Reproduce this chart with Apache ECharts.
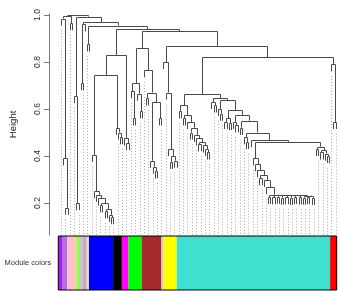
<!DOCTYPE html>
<html>
<head>
<meta charset="utf-8">
<script src="https://cdn.jsdelivr.net/npm/echarts@6/dist/echarts.min.js"></script>
<style>
html, body { margin: 0; padding: 0; background: #fff; }
#chart { width: 341px; height: 291px; }
</style>
</head>
<body>
<div id="chart"></div>
<script>
// subtrees as [mergeHeight, left, right], 0 = one leaf
var purpleTree = [0.39, 0, [0.18, 0, 0]];
var pinkTopTree = [0.965, 0, 0];
var pinkTree = [0.655, 0, [0.2, 0, 0]];
var greenyellowTree = [0.71, 0, 0];
var pairTree = [0.875, 0, 0];
var blueTree = [0.405, 0, [0.25, 0, [0.235, 0, [0.22, 0, [0.2, [0.19, 0, 0], [0.175, [0.165, 0, 0], [0.15, 0, [0.14, 0, 0]]]]]]]];
var blackTree = [0.52, 0, [0.5, 0, [0.48, 0, 0]]];
var magentaTree = [0.475, 0, [0.455, 0, 0]];
var greenTree = [0.71, [0.675, 0, [0.56, 0, 0]], [0.665, 0, [0.59, 0, 0]]];
var brownTree = [0.765, 0, [0.67, [0.645, 0, 0], [0.63, [0.38, 0, [0.355, 0, [0.335, 0, 0]]], [0.56, 0, 0]]]];
var yellowTree = [0.8, 0, [0.67, 0, [0.43, 0, [0.4, [0.375, 0, 0], [0.38, 0, 0]]]]];
var turqLeftTree = [0.617, [0.59, 0, 0], [0.575, [0.56, 0, 0], [0.545, 0, [0.52, [0.5, 0, 0], [0.49, 0, [0.475, 0, [0.46, [0.45, 0, 0], [0.445, 0, [0.43, 0, [0.415, 0, 0]]]]]]]]]];
var flatTree = [0.236, [0.226, 0, 0], [0.2355, [0.224, 0, 0], [0.235, [0.227, 0, 0], [0.2345, [0.223, 0, 0], [0.234, [0.225, 0, 0],
  [0.2335, [0.222, 0, 0], [0.233, [0.226, 0, 0], [0.2325, [0.224, 0, 0], [0.232, [0.223, 0, 0], [0.2315, [0.225, 0, 0], [0.222, 0, 0]]]]]]]]]]];
var chainTree = [0.39, 0, [0.365, 0, [0.34, 0, [0.32, [0.305, 0, 0], [0.298, 0, [0.268, 0, flatTree]]]]]];
var turqRightTree = [0.44, [0.43, 0, 0], [0.425, [0.415, 0, 0], [0.41, 0, [0.4, 0, 0]]]];
var turqStairTree = [0.647, [0.63, 0, [0.615, 0, 0]],
  [0.638, [0.6, 0, [0.58, 0, 0]],
  [0.596, [0.56, [0.545, 0, 0], [0.54, 0, 0]],
  [0.575, [0.545, 0, [0.53, 0, 0]],
  [0.55, [0.52, 0, 0],
  [0.5, [0.48, 0, [0.46, 0, 0]],
  [0.467, 0, [0.46, chainTree, turqRightTree]]]]]]]];
var turquoiseTree = [0.664, turqLeftTree, turqStairTree];
var redTree = [0.79, 0, [0.545, 0, 0]];

var root = [1.0,
  [0.997, [0.985, 0, purpleTree], pinkTopTree],
  [0.993, pinkTree,
    [0.97, [0.96, greenyellowTree, 0],
      [0.955, pairTree,
        [0.94,
          [0.83, [0.745, blueTree, blackTree], magentaTree],
          [0.932,
            [0.86, greenTree, brownTree],
            [0.868, yellowTree, [0.82, turquoiseTree, redTree]]]]]]]];

var moduleColors = ['#A020F0', '#B46EE6', '#FFC0CB', '#ADFF2F', '#90EE90', '#B0C4DE', '#D8A8A8', '#D8E0F0',
  '#0000FF', '#000000', '#FF00FF', '#00FF00', '#A52A2A', '#D8C8C0', '#FFFF00', '#40E0D0', '#FF0000'];
var moduleSizes = [2, 2, 4, 1, 1, 1, 2, 1, 11, 4, 3, 6, 9, 1, 6, 70, 3];
var heightTicks = [0.2, 0.4, 0.6, 0.8, 1.0];

var hang = 0.03, guideGap = 0.02;
var yMin = 0.064, yMax = 1.005;

// walk the tree: leaves get x = 1..N, each node gives one U shaped segment
var segments = [], leaves = [], leafCount = 0;
function layout(node, parentH) {
  if (node === 0) {
    leafCount += 1;
    var leaf = [leafCount, parentH - hang];
    leaves.push(leaf);
    return leaf;
  }
  var l = layout(node[1], node[0]);
  var r = layout(node[2], node[0]);
  segments.push([l[0], r[0], node[0], l[1], r[1]]);
  return [(l[0] + r[0]) / 2, node[0]];
}
layout(root, 1);

var guides = leaves.filter(function (d, i) { return i % 2 === 0; })
  .map(function (d) { return [d[0], d[1] - guideGap]; });

var bars = [], start = 0.5;
moduleSizes.forEach(function (s, i) {
  bars.push([start, start + s, i]);
  start += s;
});
var nLeaves = start - 0.5;

function px(v) { return Math.round(v) + 0.5; }

var myChart = echarts.init(document.getElementById('chart'));
var font = 'Liberation Sans, Arial, sans-serif';

var option = {
  animation: false,
  grid: [
    { left: 58.3, width: 278.4, top: 13.8, height: 221.2 },
    { left: 58.3, width: 278.4, top: 236, height: 54, show: true, borderColor: '#000', borderWidth: 1, z: 5 }
  ],
  xAxis: [
    { type: 'value', gridIndex: 0, min: 0.5, max: nLeaves + 0.5, show: false },
    { type: 'value', gridIndex: 1, min: 0.5, max: nLeaves + 0.5, show: false }
  ],
  yAxis: [
    {
      type: 'value', gridIndex: 0, min: yMin, max: yMax, offset: 11,
      name: 'Height', nameLocation: 'middle', nameGap: 31, nameRotate: 90,
      nameTextStyle: { fontSize: 9.5, color: '#222', fontFamily: font },
      axisLine: { show: true, lineStyle: { color: '#777' } },
      axisTick: { show: true, length: 5, customValues: heightTicks, lineStyle: { color: '#777' } },
      axisLabel: {
        customValues: heightTicks, rotate: 90, margin: 7,
        fontSize: 8.5, color: '#333', fontFamily: font,
        formatter: function (v) { return v.toFixed(1); }
      },
      splitLine: { show: false }
    },
    {
      type: 'category', gridIndex: 1, data: ['Module colors'],
      axisLine: { show: false }, axisTick: { show: false },
      axisLabel: { fontSize: 7.5, color: '#333', margin: 7, fontFamily: font }
    }
  ],
  series: [
    {
      type: 'custom', xAxisIndex: 0, yAxisIndex: 0, data: guides,
      renderItem: function (params, api) {
        var p0 = api.coord([api.value(0), api.value(1)]);
        var p1 = api.coord([api.value(0), yMin]);
        var x = px(p0[0]);
        return {
          type: 'line',
          shape: { x1: x, y1: p0[1], x2: x, y2: p1[1] },
          style: { stroke: '#aaa', lineWidth: 1, lineDash: [1, 2] }
        };
      }
    },
    {
      type: 'custom', xAxisIndex: 0, yAxisIndex: 0, data: segments,
      renderItem: function (params, api) {
        var a = api.coord([api.value(0), api.value(3)]);
        var b = api.coord([api.value(0), api.value(2)]);
        var c = api.coord([api.value(1), api.value(2)]);
        var d = api.coord([api.value(1), api.value(4)]);
        return {
          type: 'polyline',
          shape: { points: [[px(a[0]), a[1]], [px(b[0]), px(b[1])], [px(c[0]), px(c[1])], [px(d[0]), d[1]]] },
          style: { stroke: '#4a4a4a', lineWidth: 1, fill: null }
        };
      }
    },
    {
      type: 'custom', xAxisIndex: 1, yAxisIndex: 1, data: bars,
      renderItem: function (params, api) {
        var x0 = api.coord([api.value(0), 0])[0];
        var x1 = api.coord([api.value(1), 0])[0];
        var cs = params.coordSys;
        return {
          type: 'rect',
          shape: { x: x0, y: cs.y, width: x1 - x0, height: cs.height },
          style: { fill: moduleColors[api.value(2)] }
        };
      }
    }
  ]
};

myChart.setOption(option);
</script>
</body>
</html>
